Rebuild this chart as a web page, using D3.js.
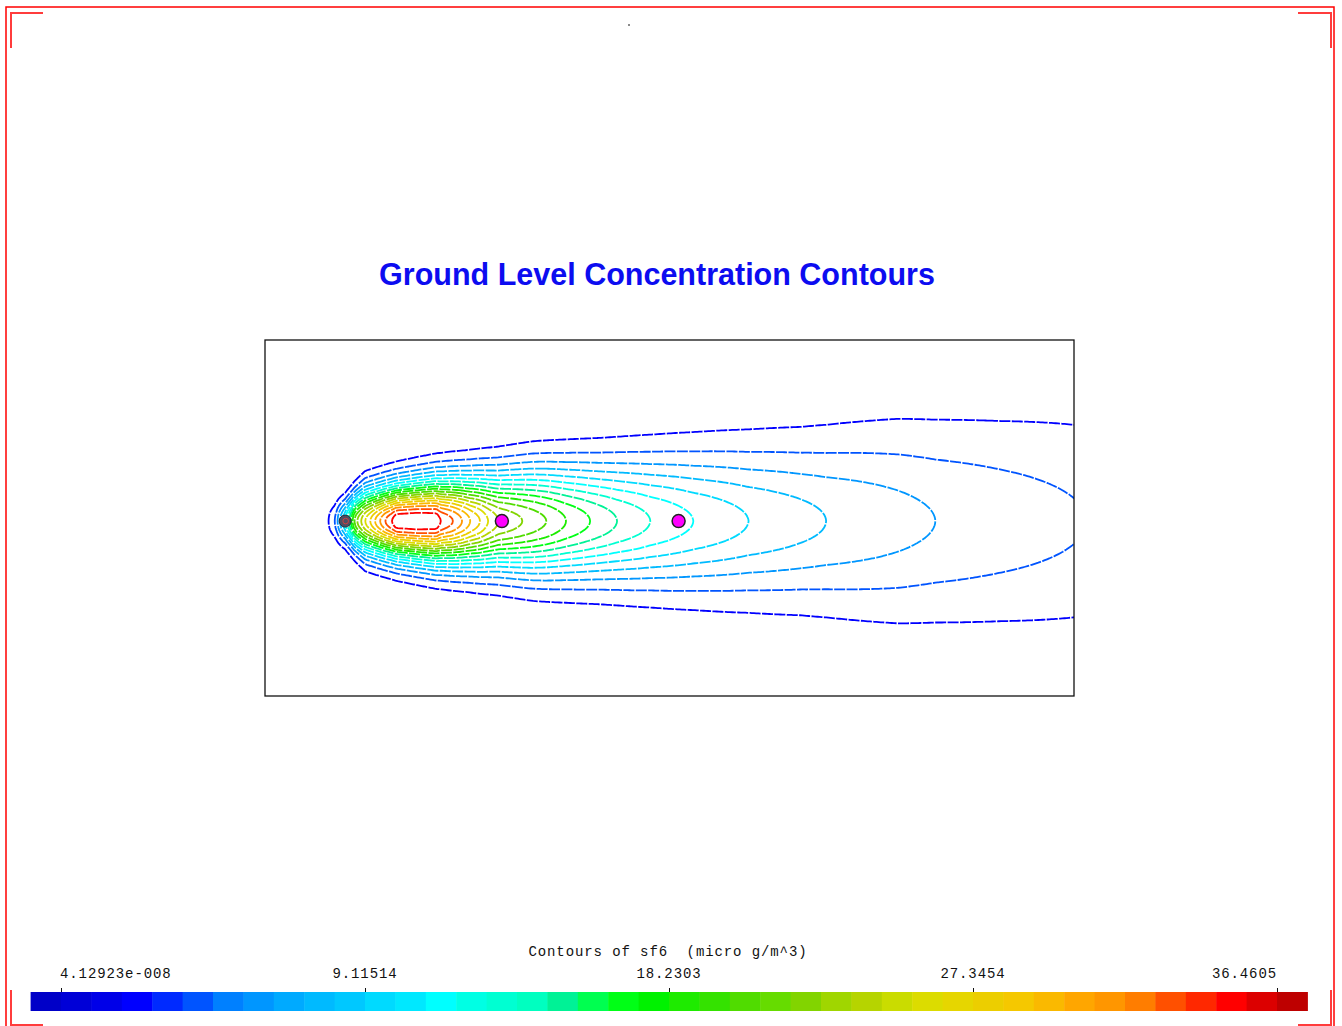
<!DOCTYPE html>
<html>
<head>
<meta charset="utf-8">
<script src="https://cdn.jsdelivr.net/npm/d3@7"></script>
<style>
  html, body { margin: 0; padding: 0; background: #fff; }
  svg { display: block; }
</style>
</head>
<body>
<svg id="chart" width="1342" height="1026"></svg>
<script>
// ---- Contour levels of sf6 (micro g/m^3) ----
const levels = [1.82303, 3.64605, 5.46908, 7.29210, 9.11514, 10.9382, 12.7612,
  14.5842, 16.4073, 18.2303, 20.0533, 21.8763, 23.6994, 25.5224, 27.3454,
  29.1684, 30.9915, 32.8145, 34.6375, 36.4605];

// ---- Colour bar ----
const barTickValues = [4.12923e-8, 9.11514, 18.2303, 27.3454, 36.4605];
const barTickLabels = ["4.12923e-008", "9.11514", "18.2303", "27.3454", "36.4605"];
const barColors = [
  "rgb(0,0,200)", "rgb(0,0,215)", "rgb(0,0,232)", "rgb(0,0,255)", "rgb(0,42,255)",
  "rgb(0,84,255)", "rgb(0,128,255)", "rgb(0,150,255)", "rgb(0,170,255)", "rgb(0,186,255)",
  "rgb(0,200,255)", "rgb(0,218,255)", "rgb(0,232,255)", "rgb(0,255,255)", "rgb(0,255,228)",
  "rgb(0,255,210)", "rgb(0,255,192)", "rgb(0,242,150)", "rgb(0,255,80)", "rgb(0,255,22)",
  "rgb(0,242,0)", "rgb(30,235,0)", "rgb(52,226,0)", "rgb(80,220,0)", "rgb(102,220,0)",
  "rgb(130,212,0)", "rgb(160,214,0)", "rgb(182,212,0)", "rgb(202,220,0)", "rgb(220,220,0)",
  "rgb(230,214,0)", "rgb(236,206,0)", "rgb(245,200,0)", "rgb(250,185,0)", "rgb(255,166,0)",
  "rgb(255,150,0)", "rgb(255,125,0)", "rgb(255,80,0)", "rgb(255,40,0)", "rgb(255,0,0)",
  "rgb(220,0,0)", "rgb(190,0,0)"];

// ---- Plume: centre-line concentration along the wind (x, m) ----
const centerX = [-60, -46, -27, -21, -14, -7, 0, 5, 11, 16, 21, 25, 33, 44, 55, 69, 82,
  96, 110, 129, 140, 195, 250, 261, 296, 321, 343, 370, 392, 420, 486, 552, 606, 672,
  746, 837, 955, 1106, 1320, 1619, 2000, 2200];
const centerConc = [0, 1.82, 3.65, 5.47, 7.29, 9.12, 10.94, 12.76, 14.58, 16.41, 18.23,
  20.05, 21.88, 23.70, 25.52, 27.35, 29.17, 30.99, 32.81, 34.64, 36.10, 36.45, 36.10,
  34.64, 32.81, 30.99, 29.17, 27.35, 25.52, 23.70, 21.88, 20.05, 18.23, 16.41, 14.58,
  12.76, 10.94, 9.12, 7.29, 5.47, 3.80, 3.30];

// ---- Plume: cross-wind spread (sigma-y, m) along the wind ----
const sigmaX = [-60, -27, 0, 55, 260, 330, 515, 700, 1250, 1520, 1800, 2000, 2300];
const sigmaY = [34, 38, 41, 60, 77, 82, 99, 110, 151, 181, 200, 218, 235];

// ---- Source and receptors (m) ----
const sources = [[0, 0]];
const receptors = [[430, 0], [915, 0]];

// ---- Layout ----
const svg = d3.select("#chart");
const frame = { x0: 265, x1: 1074, y0: 340, y1: 696 };
const xDomain = [-220, 2000];
const yDomain = [-480, 497];

const x = d3.scaleLinear().domain(xDomain).range([frame.x0, frame.x1]);
const y = d3.scaleLinear().domain(yDomain).range([frame.y1, frame.y0]);

// Page border and corner brackets
svg.append("rect")
  .attr("x", 6).attr("y", 7).attr("width", 1328).attr("height", 1100)
  .attr("fill", "none").attr("stroke", "#ff0000").attr("stroke-width", 1.5);
const brackets = [
  "M11,48 V13 H43", "M1298,13 H1331 V48",
  "M11,990 V1025 H43", "M1298,1025 H1331 V990"];
svg.selectAll("path.bracket").data(brackets).join("path")
  .attr("class", "bracket").attr("d", d => d)
  .attr("fill", "none").attr("stroke", "#ff3c3c").attr("stroke-width", 2);
svg.append("rect").attr("x", 628).attr("y", 24).attr("width", 2).attr("height", 2)
  .attr("fill", "#8a8a8a");

// Title
svg.append("text")
  .attr("x", 657).attr("y", 285)
  .attr("text-anchor", "middle")
  .attr("font-family", "'Liberation Sans', Arial, sans-serif")
  .attr("font-weight", "bold")
  .attr("font-size", 30.5)
  .attr("fill", "#0c0cf0")
  .text("Ground Level Concentration Contours");

// ---- Concentration grid ----
const step = 6;
const gx0 = -300, gx1 = 2300, gy0 = -570, gy1 = 570;
const nx = Math.round((gx1 - gx0) / step) + 1;
const ny = Math.round((gy1 - gy0) / step) + 1;
const conc = d3.scaleLinear().domain(centerX).range(centerConc).clamp(true);
const sigma = d3.scaleLinear().domain(sigmaX).range(sigmaY).clamp(true);
const values = new Float64Array(nx * ny);
for (let j = 0; j < ny; j++) {
  const yy = gy0 + j * step;
  for (let i = 0; i < nx; i++) {
    const xx = gx0 + i * step;
    const s = sigma(xx);
    values[j * nx + i] = conc(xx) * Math.exp(-(yy * yy) / (2 * s * s));
  }
}

const contours = d3.contours().size([nx, ny]).thresholds(levels)(values);
const gridProjection = d3.geoTransform({
  point(px, py) {
    this.stream.point(x(gx0 + (px - 0.5) * step), y(gy0 + (py - 0.5) * step));
  }
});
const path = d3.geoPath(gridProjection);

const barStep = 36.4605 / 40;
const barX = d3.scaleLinear().domain([barTickValues[0], barTickValues[4]]).range([61, 1277]);
const levelColor = v => barColors[Math.min(barColors.length - 1, Math.round(v / barStep) + 1)];

svg.append("clipPath").attr("id", "plot-clip")
  .append("rect")
  .attr("x", frame.x0).attr("y", frame.y0)
  .attr("width", frame.x1 - frame.x0).attr("height", frame.y1 - frame.y0);

svg.append("g").attr("clip-path", "url(#plot-clip)")
  .selectAll("path").data(contours.filter(c => c.coordinates.length)).join("path")
  .attr("d", path)
  .attr("fill", "none")
  .attr("stroke", d => levelColor(d.value))
  .attr("stroke-width", 1.8)
  .attr("stroke-dasharray", "11 1.4")
  .attr("stroke-linejoin", "miter");

// Plot frame
svg.append("rect")
  .attr("x", frame.x0).attr("y", frame.y0)
  .attr("width", frame.x1 - frame.x0).attr("height", frame.y1 - frame.y0)
  .attr("fill", "none").attr("stroke", "#111").attr("stroke-width", 1.3);

// Source marker
svg.selectAll("g.source").data(sources).join("g").attr("class", "source")
  .each(function (d) {
    const g = d3.select(this);
    g.append("circle").attr("cx", x(d[0])).attr("cy", y(d[1])).attr("r", 6)
      .attr("fill", "#4d4f63").attr("stroke", "#2a2a35").attr("stroke-width", 1);
    g.append("circle").attr("cx", x(d[0]) + 0.5).attr("cy", y(d[1])).attr("r", 2.8)
      .attr("fill", "none").attr("stroke", "#d04040").attr("stroke-width", 1);
  });

// Receptor markers
svg.selectAll("circle.receptor").data(receptors).join("circle")
  .attr("class", "receptor")
  .attr("cx", d => x(d[0])).attr("cy", d => y(d[1])).attr("r", 6.5)
  .attr("fill", "#ff00ff").attr("stroke", "#222").attr("stroke-width", 1.5);

// ---- Colour bar ----
const bar = svg.append("g");
bar.selectAll("rect").data(barColors).join("rect")
  .attr("x", (d, i) => barX((i - 1) * barStep))
  .attr("y", 992)
  .attr("width", (d, i) => barX(i * barStep) - barX((i - 1) * barStep) + 0.5)
  .attr("height", 19)
  .attr("fill", d => d);

bar.selectAll("line").data(barTickValues).join("line")
  .attr("x1", d => Math.round(barX(d)) + 0.5).attr("x2", d => Math.round(barX(d)) + 0.5)
  .attr("y1", 988).attr("y2", 992)
  .attr("stroke", "#111").attr("stroke-width", 1);

const anchors = ["start", "middle", "middle", "middle", "end"];
bar.selectAll("text.tick").data(barTickValues).join("text")
  .attr("class", "tick")
  .attr("x", (d, i) => barX(d) + (i === 0 ? -1 : 0))
  .attr("y", 978)
  .attr("text-anchor", (d, i) => anchors[i])
  .attr("font-family", "'Liberation Mono', 'DejaVu Sans Mono', monospace")
  .attr("font-size", 14)
  .attr("letter-spacing", 0.9)
  .attr("fill", "#111")
  .text((d, i) => barTickLabels[i]);

bar.append("text")
  .attr("x", 668).attr("y", 956)
  .attr("text-anchor", "middle")
  .attr("font-family", "'Liberation Mono', 'DejaVu Sans Mono', monospace")
  .attr("font-size", 14)
  .attr("letter-spacing", 0.9)
  .attr("fill", "#111")
  .style("white-space", "pre")
  .text("Contours of sf6  (micro g/m^3)");
</script>
</body>
</html>
